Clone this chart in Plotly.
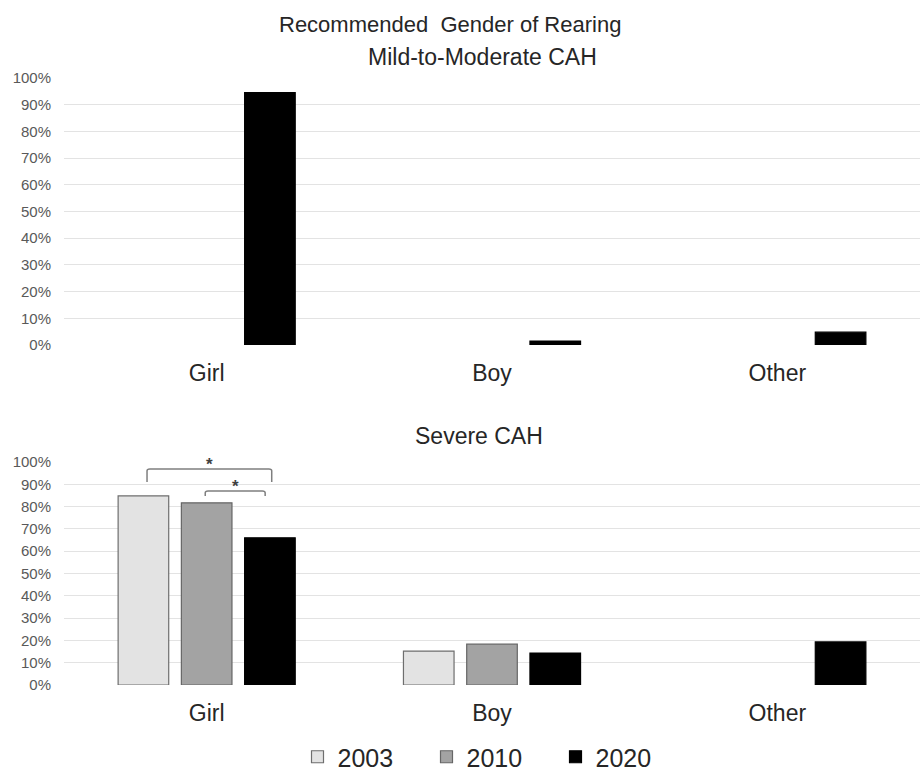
import plotly.graph_objects as go

categories = ["Girl", "Boy", "Other"]
years = ["2003", "2010", "2020"]
mild_2003 = [None, None, None]
mild_2010 = [None, None, None]
mild_2020 = [94.5, 1.5, 4.8]
severe_2003 = [84.8, 15.2, None]
severe_2010 = [81.7, 18.3, None]
severe_2020 = [66.0, 14.3, 19.3]
y_ticks = list(range(0, 101, 10))
y_ticktext = [f"{v}%" for v in y_ticks]

fills = ["#e3e3e3", "#a3a3a3", "#000000"]
outlines = ["#6e6e6e", "#666666", "#000000"]

FONT = "Liberation Sans, Arial, sans-serif"
fig = go.Figure()

mild = [mild_2003, mild_2010, mild_2020]
severe = [severe_2003, severe_2010, severe_2020]
for i, yr in enumerate(years):
    fig.add_trace(go.Bar(x=categories, y=mild[i], name=yr, marker=dict(color=fills[i], line=dict(color=outlines[i], width=1.2)),
                         xaxis="x", yaxis="y", showlegend=False, legendgroup=yr))
for i, yr in enumerate(years):
    fig.add_trace(go.Bar(x=categories, y=severe[i], name=yr, marker=dict(color=fills[i], line=dict(color=outlines[i], width=1.2)),
                         xaxis="x2", yaxis="y2", showlegend=True, legendgroup=yr))

xdom = [64 / 921, 920 / 921]
ax_common = dict(range=[0, 100], tickvals=y_ticks, ticktext=y_ticktext, showgrid=True, gridcolor="#e3e3e3", gridwidth=1.3,
                 zeroline=False, showline=False, tickfont=dict(family=FONT, size=15, color="#595959"), ticks="",
                 ticklabelstandoff=12, fixedrange=True)
xax_common = dict(showline=False, showgrid=False, ticks="", tickfont=dict(family=FONT, size=23, color="#262626"), ticklabelstandoff=12)

fig.update_layout(
    width=921, height=771,
    margin=dict(l=0, r=0, t=0, b=0, autoexpand=False),
    paper_bgcolor="white", plot_bgcolor="white",
    barmode="group", bargap=0.335, bargroupgap=0.2,
    xaxis=dict(domain=xdom, anchor="y", **xax_common),
    yaxis=dict(domain=[1 - 345 / 771, 1 - 78 / 771], anchor="x", **ax_common),
    xaxis2=dict(domain=xdom, anchor="y2", **xax_common),
    yaxis2=dict(domain=[1 - 685 / 771, 1 - 462 / 771], anchor="x2", **ax_common),
    legend=dict(orientation="h", x=491 / 921, xanchor="center", y=1 - 757 / 771, yanchor="middle",
                font=dict(family=FONT, size=25, color="#262626"), entrywidth=84, itemwidth=30,
                traceorder="normal"),
    font=dict(family=FONT),
)

annots = [
    dict(text="Recommended  Gender of Rearing", x=450 / 921, y=1 - 24 / 771, size=22),
    dict(text="Mild-to-Moderate CAH", x=482 / 921, y=1 - 57 / 771, size=23),
    dict(text="Severe CAH", x=479 / 921, y=1 - 436 / 771, size=23),
]
for a in annots:
    fig.add_annotation(text=a["text"], x=a["x"], y=a["y"], xref="paper", yref="paper", showarrow=False,
                       xanchor="center", yanchor="middle", font=dict(family=FONT, size=a["size"], color="#262626"))

# significance brackets
brackets = [(-0.209, 0.228, 96.9, 91.0), (-0.005, 0.205, 87.0, 84.8)]
for x0, x1, ytop, yend in brackets:
    fig.add_shape(type="path", xref="x2", yref="y2",
                  path=f"M {x0},{yend} L {x0},{ytop-0.8} Q {x0},{ytop} {x0+0.01},{ytop} L {x1-0.01},{ytop} Q {x1},{ytop} {x1},{ytop-0.8} L {x1},{yend}",
                  line=dict(color="#7f7f7f", width=1.5))
    fig.add_annotation(text="<b>*</b>", x=(x0 + x1) / 2, y=ytop - 3.2, xref="x2", yref="y2", showarrow=False,
                       yanchor="bottom", font=dict(family=FONT, size=17, color="#404040"))

fig.write_html("out.html", config={"displayModeBar": False},
               post_script="document.body.style.margin='0';document.body.style.overflow='hidden';")
